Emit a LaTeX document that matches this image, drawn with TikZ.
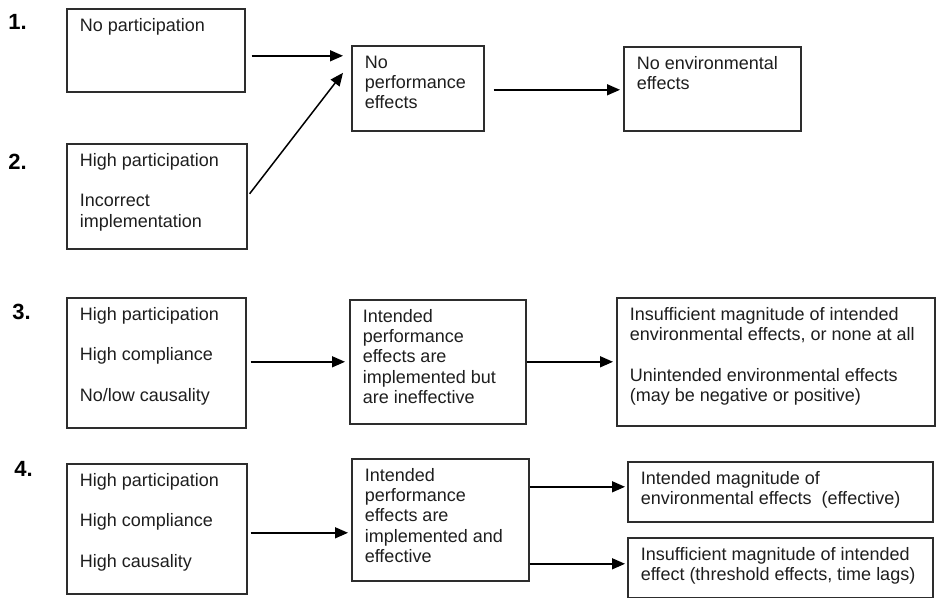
\documentclass[tikz,border=0pt]{standalone}
\usepackage{fontspec}
\setmainfont{Liberation Sans}
\usepackage{tikz}
\usetikzlibrary{arrows.meta,calc}
\definecolor{FrameGray}{RGB}{45,45,45}
\definecolor{TextGray}{RGB}{30,30,30}
\newcommand{\flowtext}[3]{\parbox[c][#2][t]{#1}{\begin{tabular}{@{}l@{}}#3\end{tabular}}}

\begin{document}
\begin{tikzpicture}[x=0.5pt,y=-0.5pt,
		box/.style={draw=FrameGray,line width=0.8pt,anchor=north west,inner xsep=6.5pt,inner ysep=4pt,text=TextGray,font=\fontsize{9}{10.2}\selectfont},
		num/.style={anchor=west,inner sep=0pt,font=\bfseries\fontsize{11}{12}\selectfont},
		arr/.style={-{Triangle[length=6.5pt,width=5.5pt]},line width=0.75pt}]
	\useasboundingbox (0,0) rectangle (936,598);
	% case labels
	\node[num] (n1) at (8,22) {1.};
	\node[num] (n2) at (8,162) {2.};
	\node[num] (n3) at (12,312) {3.};
	\node[num] (n4) at (14,469) {4.};
	% cases 1 and 2
	\node[box] (b1) at (66,8) {\flowtext{76pt}{33.5pt}{No participation}};
	\node[box] (b2) at (66,143) {\flowtext{77pt}{44.5pt}{High participation\\ \\Incorrect\\implementation}};
	\node[box] (p12) at (351,45) {\flowtext{53pt}{34.5pt}{No\\performance\\effects}};
	\node[box] (e12) at (623,46) {\flowtext{75.5pt}{34pt}{No environmental\\effects}};
	\draw[arr] ([xshift=3pt,yshift=-2.75pt]b1.east) -- ([xshift=-4pt,yshift=16.25pt]p12.west);
	\draw[arr] ([xshift=1pt,yshift=1.25pt]b2.east) -- ([xshift=-4pt,yshift=7.75pt]p12.west);
	\draw[arr] ([xshift=4.5pt,yshift=-0.75pt]p12.east) -- ([xshift=-1.5pt,yshift=-0.5pt]e12.west);
	% case 3
	\node[box] (b3) at (66,297) {\flowtext{76.5pt}{57pt}{High participation\\ \\High compliance\\ \\No/low causality}};
	\node[box] (p3) at (349,299) {\flowtext{75pt}{54pt}{Intended\\performance\\effects are\\implemented but\\are ineffective}};
	\node[box] (e3) at (616,297) {\flowtext{146pt}{56pt}{Insufficient magnitude of intended\\environmental effects, or none at all\\ \\Unintended environmental effects\\(may be negative or positive)}};
	\draw[arr] ([xshift=2pt,yshift=0.5pt]b3.east) -- ([xshift=-2pt]p3.west);
	\draw[arr] (p3.east) -- ([xshift=-1.5pt]e3.west);
	% case 4
	\node[box] (b4) at (66,463) {\flowtext{77pt}{57pt}{High participation\\ \\High compliance\\ \\High causality}};
	\node[box] (p4) at (351,458) {\flowtext{75.5pt}{53pt}{Intended\\performance\\effects are\\implemented and\\effective}};
	\node[box] (e4a) at (627,461) {\flowtext{139.5pt}{22pt}{Intended magnitude of\\environmental effects~ (effective)}};
	\node[box] (e4b) at (627,537) {\flowtext{139.5pt}{22pt}{Insufficient magnitude of intended\\effect (threshold effects, time lags)}};
	\draw[arr] ([xshift=1.5pt,yshift=-2pt]b4.east) -- ([xshift=-1.5pt,yshift=-6.5pt]p4.west);
	\draw[arr] ([yshift=16.5pt]p4.east) -- ([xshift=-1pt,yshift=2.5pt]e4a.west);
	\draw[arr] ([yshift=-22pt]p4.east) -- ([xshift=-1pt,yshift=2pt]e4b.west);
\end{tikzpicture}
\end{document}
